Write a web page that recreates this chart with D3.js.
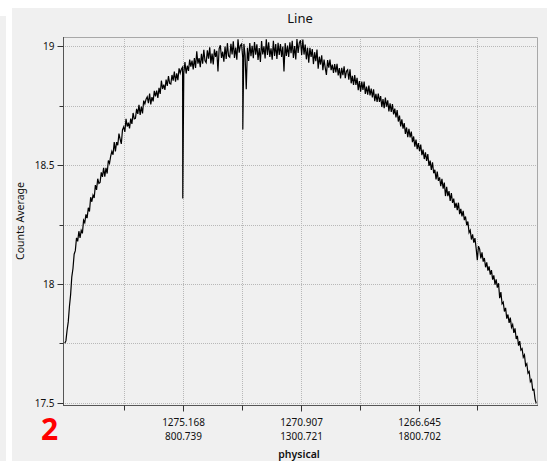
<!DOCTYPE html>
<html><head><meta charset="utf-8">
<script src="https://cdn.jsdelivr.net/npm/d3@7"></script>
<style>
html,body{margin:0;padding:0;background:#fff;}
svg{display:block;}
text{font-family:"Noto Sans","Open Sans",sans-serif;}
</style></head>
<body>
<svg id="chart" width="547" height="461"></svg>
<script>
// ---- data ----
const physicalStart = 300;
const physicalStep = 5;
const counts = [
17.75,17.76,17.805,17.84,17.905,17.955,18.03,18.065,18.125,18.14,
18.194,18.179,18.222,18.194,18.225,18.213,18.268,18.258,18.293,18.277,
18.321,18.305,18.365,18.346,18.374,18.362,18.416,18.396,18.443,18.423,
18.427,18.47,18.451,18.489,18.452,18.489,18.465,18.52,18.508,18.538,
18.558,18.544,18.597,18.558,18.597,18.584,18.633,18.61,18.59,18.649,
18.661,18.64,18.695,18.663,18.679,18.655,18.696,18.674,18.72,18.695,
18.697,18.737,18.716,18.754,18.712,18.747,18.718,18.772,18.758,18.778,
18.788,18.761,18.802,18.756,18.787,18.769,18.813,18.79,18.814,18.783,
18.826,18.8,18.856,18.821,18.839,18.817,18.861,18.834,18.875,18.845,
18.842,18.88,18.856,18.894,18.852,18.887,18.858,18.908,18.888,18.905,
18.913,18.886,18.934,18.886,18.919,18.897,18.945,18.915,18.941,18.903,
18.951,18.91,18.98,18.928,18.951,18.913,18.969,18.928,18.986,18.94,
18.932,18.984,18.949,18.997,18.929,18.97,18.924,18.988,18.956,18.982,
18.895,18.991,19.005,18.952,18.978,18.936,19.0,18.948,19.014,18.96,
18.955,19.011,18.967,19.022,18.952,18.996,18.944,19.03,18.974,19.004,
19.01,18.954,19.011,18.963,18.82,18.995,18.939,19.015,18.959,19.003,
18.951,19.019,18.965,19.009,18.943,18.993,18.935,19.023,18.967,19.001,
18.95,19.03,18.964,19.018,18.956,18.992,18.944,19.024,18.96,19.01,
18.948,19.016,18.964,19.01,18.956,19.0,18.895,19.014,18.96,19.004,
18.956,19.018,18.972,19.024,18.952,19.002,18.945,19.031,18.973,19.015,
19.026,18.964,19.029,18.966,19.008,18.946,18.995,18.932,18.994,18.956,
18.989,18.926,18.976,18.938,18.987,18.906,18.957,18.924,18.963,18.9,
18.945,18.91,18.88,18.943,18.911,18.945,18.9,18.924,18.889,18.926,
18.891,18.927,18.878,18.909,18.866,18.91,18.879,18.917,18.867,18.896,
18.902,18.86,18.904,18.845,18.876,18.838,18.88,18.838,18.868,18.816,
18.854,18.81,18.852,18.817,18.852,18.8,18.831,18.797,18.835,18.794,
18.823,18.786,18.82,18.77,18.801,18.767,18.802,18.767,18.791,18.745,
18.779,18.74,18.785,18.747,18.773,18.727,18.761,18.724,18.757,18.714,
18.738,18.701,18.732,18.684,18.709,18.663,18.693,18.654,18.677,18.632,
18.659,18.618,18.653,18.617,18.642,18.597,18.621,18.578,18.608,18.568,
18.593,18.559,18.587,18.542,18.566,18.526,18.554,18.518,18.547,18.497,
18.519,18.48,18.512,18.466,18.481,18.44,18.473,18.434,18.449,18.412,
18.443,18.401,18.427,18.37,18.409,18.37,18.391,18.35,18.383,18.341,
18.359,18.32,18.341,18.311,18.342,18.294,18.316,18.284,18.308,18.269,
18.284,18.247,18.263,18.216,18.226,18.187,18.209,18.174,18.193,18.151,
18.1,18.159,18.146,18.107,18.133,18.094,18.109,18.07,18.091,18.056,
18.074,18.039,18.058,18.018,18.036,17.997,18.019,17.984,18.003,17.94,
17.966,17.916,17.923,17.884,17.899,17.854,17.871,17.836,17.858,17.817,
17.829,17.794,17.813,17.768,17.781,17.74,17.759,17.721,17.727,17.691,
17.701,17.656,17.664,17.624,17.631,17.588,17.596,17.554,17.556,17.515,
17.497
];
const spikePhysical = [800.74, 1055.4];
const spikeCounts = [18.36, 18.65];

const yMajorTicks = [17.5, 18, 18.5, 19];
const yMinorTicks = [17.75, 18.25, 18.75];
const xMajorTicks = [800.739, 1300.721, 1800.702];
const xWavelengthLabels = ["1275.168", "1270.907", "1266.645"];
const xMinorTicks = [550.748, 1050.730, 1550.711, 2050.693];

const titleText = "Line";
const xLabelText = "physical";
const yLabelText = "Counts Average";
const badgeText = "2";

// ---- build series ----
const series = counts.map((v, i) => ({p: physicalStart + i * physicalStep, v}))
  .concat(spikePhysical.map((p, i) => ({p, v: spikeCounts[i]})))
  .sort((a, b) => a.p - b.p);

// ---- layout ----
const svg = d3.select("#chart");
const L = 63, R = 537, T = 37, B = 405;
const x = d3.scaleLinear().domain([292.7, 2303.2]).range([L, R]);
const y = d3.scaleLinear().domain([17.49, 19.04]).range([B, T]);

// panels
svg.append("rect").attr("x", 0).attr("y", 16).attr("width", 6).attr("height", 445).attr("fill", "#f0f0f0");
svg.append("rect").attr("x", 12).attr("y", 8).attr("width", 535).attr("height", 453).attr("fill", "#f0f0f0");

// grid
const gridTicksY = yMajorTicks.concat(yMinorTicks);
const gridTicksX = xMajorTicks.concat(xMinorTicks);
svg.append("g").selectAll("line").data(gridTicksY).join("line")
  .attr("x1", L).attr("x2", R)
  .attr("y1", d => Math.round(y(d)) + 0.5).attr("y2", d => Math.round(y(d)) + 0.5)
  .attr("stroke", "#b8b8b8").attr("stroke-dasharray", "1,1");
svg.append("g").selectAll("line").data(gridTicksX).join("line")
  .attr("y1", T).attr("y2", B)
  .attr("x1", d => Math.round(x(d)) + 0.5).attr("x2", d => Math.round(x(d)) + 0.5)
  .attr("stroke", "#b8b8b8").attr("stroke-dasharray", "1,1");

// frame top/right
svg.append("path").attr("d", `M${L},${T + 0.5}H${R + 0.5}V${B}`)
  .attr("fill", "none").attr("stroke", "#a8a8a8");

// line
const line = d3.line().x(d => x(d.p)).y(d => y(d.v));
svg.append("path").datum(series).attr("d", line)
  .attr("fill", "none").attr("stroke", "#000").attr("stroke-width", 1.2).attr("stroke-linejoin", "miter");

// y axis
const yAxis = d3.axisLeft(y).tickValues(yMajorTicks).tickSize(6).tickPadding(3).tickFormat(d3.format("~g"));
const gy = svg.append("g").attr("transform", `translate(${L + 0.5},0)`).call(yAxis);
gy.selectAll(".tick line").attr("stroke", "#333");
gy.selectAll(".tick").attr("transform", d => `translate(0,${Math.round(y(d)) + 0.5})`);
gy.select(".domain").attr("stroke", "#555").attr("d", `M0,${T}V${B}`);
gy.selectAll("text").attr("font-size", 10).attr("fill", "#111").attr("font-family", "Noto Sans");
const yMinorAxis = d3.axisLeft(y).tickValues(yMinorTicks).tickSize(4).tickFormat("");
const gym = svg.append("g").attr("transform", `translate(${L + 0.5},0)`).call(yMinorAxis);
gym.select(".domain").remove();
gym.selectAll(".tick line").attr("stroke", "#333");
gym.selectAll(".tick").attr("transform", d => `translate(0,${Math.round(y(d)) + 0.5})`);

// x axis
const xAxis = d3.axisBottom(x).tickValues(xMajorTicks).tickSize(6).tickFormat("");
const gx = svg.append("g").attr("transform", `translate(0,${B + 0.5})`).call(xAxis);
gx.select(".domain").attr("stroke", "#555").attr("d", `M${L},0H${R + 1}`);
gx.selectAll(".tick line").attr("stroke", "#333");
gx.selectAll(".tick").attr("transform", d => `translate(${Math.round(x(d)) + 0.5},0)`);
gx.selectAll(".tick").each(function(d, i) {
  const g = d3.select(this);
  g.append("text").attr("y", 20.5).attr("text-anchor", "middle").attr("fill", "#111")
    .attr("font-size", 10).text(xWavelengthLabels[i]);
  g.append("text").attr("y", 34.3).attr("text-anchor", "middle").attr("fill", "#111")
    .attr("font-size", 10).text(d.toFixed(3));
});
const xMinorAxis = d3.axisBottom(x).tickValues(xMinorTicks).tickSize(5).tickFormat("");
const gxm = svg.append("g").attr("transform", `translate(0,${B + 0.5})`).call(xMinorAxis);
gxm.select(".domain").remove();
gxm.selectAll(".tick line").attr("stroke", "#333");
gxm.selectAll(".tick").attr("transform", d => `translate(${Math.round(x(d)) + 0.5},0)`);

// titles
svg.append("text").attr("x", (L + R) / 2).attr("y", 23).attr("text-anchor", "middle")
  .attr("font-size", 13).attr("fill", "#111").text(titleText);
svg.append("text").attr("x", (L + R) / 2 - 1).attr("y", 458).attr("text-anchor", "middle")
  .attr("font-size", 10.5).attr("font-weight", 600).attr("fill", "#111").text(xLabelText);
svg.append("text").attr("transform", `translate(24,${(T + B) / 2}) rotate(-90)`)
  .attr("text-anchor", "middle").attr("font-size", 10.5).attr("fill", "#111").text(yLabelText);
svg.append("text").attr("x", 41).attr("y", 439.5)
  .attr("font-family", "Liberation Sans, Arial, sans-serif").attr("font-weight", "bold")
  .attr("font-size", 30).attr("fill", "#ff0000").text(badgeText);
</script>
</body></html>
